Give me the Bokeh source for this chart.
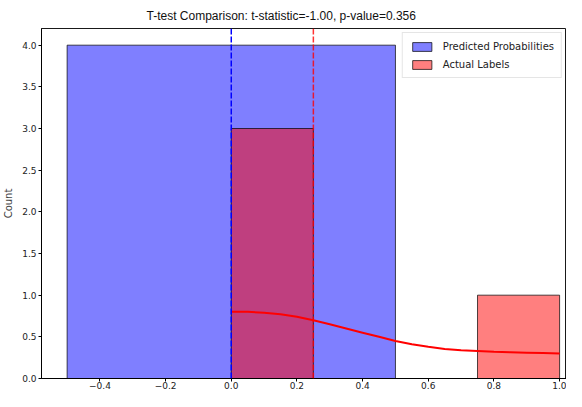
from bokeh.plotting import figure
from bokeh.models import Range1d, Span, Legend, LegendItem, FixedTicker, CustomJSTickFormatter
from bokeh.embed import file_html
from bokeh.resources import INLINE

# ---- data ----
title_text = "T-test Comparison: t-statistic=-1.00, p-value=0.356"
pred_left = [-0.5]
pred_right = [0.5]
pred_counts = [4]
actual_left = [0.0, 0.75]
actual_right = [0.25, 1.0]
actual_counts = [3, 1]
kde_x = [0.0, 0.05, 0.1, 0.15, 0.2, 0.25, 0.3, 0.35, 0.4, 0.45, 0.5, 0.55, 0.6, 0.65, 0.7, 0.75, 0.8, 0.85, 0.9, 0.95, 1.0]
kde_y = [0.80, 0.80, 0.79, 0.77, 0.74, 0.70, 0.65, 0.60, 0.55, 0.50, 0.45, 0.41, 0.38, 0.355, 0.34, 0.33, 0.32, 0.315, 0.31, 0.305, 0.30]
pred_mean = 0.0
actual_mean = 0.25
x_ticks = [-0.4, -0.2, 0.0, 0.2, 0.4, 0.6, 0.8, 1.0]
y_ticks = [0.0, 0.5, 1.0, 1.5, 2.0, 2.5, 3.0, 3.5, 4.0]

FONT = "DejaVu Sans"

p = figure(width=566, height=391, x_range=Range1d(-0.578, 1.021), y_range=Range1d(0, 4.2),
           toolbar_location=None, output_backend="svg",
           min_border_left=35, min_border_right=0, min_border_top=0, min_border_bottom=0)

p.title.text = title_text
p.title.align = "left"
p.title.offset = 105
p.title.text_font = "Liberation Sans"
p.title.text_font_size = "12px"
p.title.text_font_style = "normal"
p.title.text_color = "#111111"
p.title.standoff = 12

p.xgrid.visible = False
p.ygrid.visible = False
p.outline_line_color = "black"
p.outline_line_alpha = 0.9

for ax in (p.xaxis[0], p.yaxis[0]):
    ax.minor_tick_line_color = None
    ax.major_tick_in = 0
    ax.major_tick_out = 3
    ax.major_label_text_font = FONT
    ax.major_label_text_font_size = "9px"
    ax.major_label_text_color = "#222222"
    ax.axis_line_color = "black"
    ax.major_tick_line_color = "black"
    ax.major_label_standoff = 2
p.xaxis.major_label_standoff = 0
p.xaxis.major_label_text_line_height = 0.8

p.xaxis.ticker = FixedTicker(ticks=x_ticks)
p.yaxis.ticker = FixedTicker(ticks=y_ticks)
p.xaxis.formatter = CustomJSTickFormatter(code="return (tick < -1e-9 ? '\u2212' : '') + Math.abs(tick).toFixed(1);")
p.yaxis.formatter = CustomJSTickFormatter(code="return tick.toFixed(1);")
p.yaxis.axis_label = "Count"
p.yaxis.axis_label_text_font = FONT
p.yaxis.axis_label_text_font_size = "10px"
p.yaxis.axis_label_text_font_style = "normal"
p.yaxis.axis_label_standoff = 5

r_pred = p.quad(left=pred_left, right=pred_right, bottom=0, top=pred_counts,
                fill_color="blue", fill_alpha=0.5, line_color="black", line_alpha=0.7, line_width=1)
r_act = p.quad(left=actual_left, right=actual_right, bottom=0, top=actual_counts,
               fill_color="red", fill_alpha=0.5, line_color="black", line_alpha=0.7, line_width=1)
p.line(kde_x, kde_y, line_color="red", line_width=2)

p.add_layout(Span(location=pred_mean, dimension="height", line_color="blue", line_width=1.5, line_dash="6 2"))
p.add_layout(Span(location=actual_mean, dimension="height", line_color="red", line_width=1.5, line_dash="6 2", line_alpha=0.8))

legend = Legend(items=[LegendItem(label="Predicted Probabilities", renderers=[r_pred]),
                       LegendItem(label="Actual Labels", renderers=[r_act])],
                location="top_right")
legend.label_text_font = FONT
legend.label_text_font_size = "10px"
legend.label_text_color = "#222222"
legend.glyph_width = 24
legend.glyph_height = 11
legend.spacing = 6
legend.padding = 7
legend.margin = 4
legend.label_standoff = 9
legend.label_height = 12
legend.border_line_color = "#cccccc"
legend.background_fill_alpha = 0.8
p.add_layout(legend)

open("out.html", "w").write(file_html(p, INLINE))
